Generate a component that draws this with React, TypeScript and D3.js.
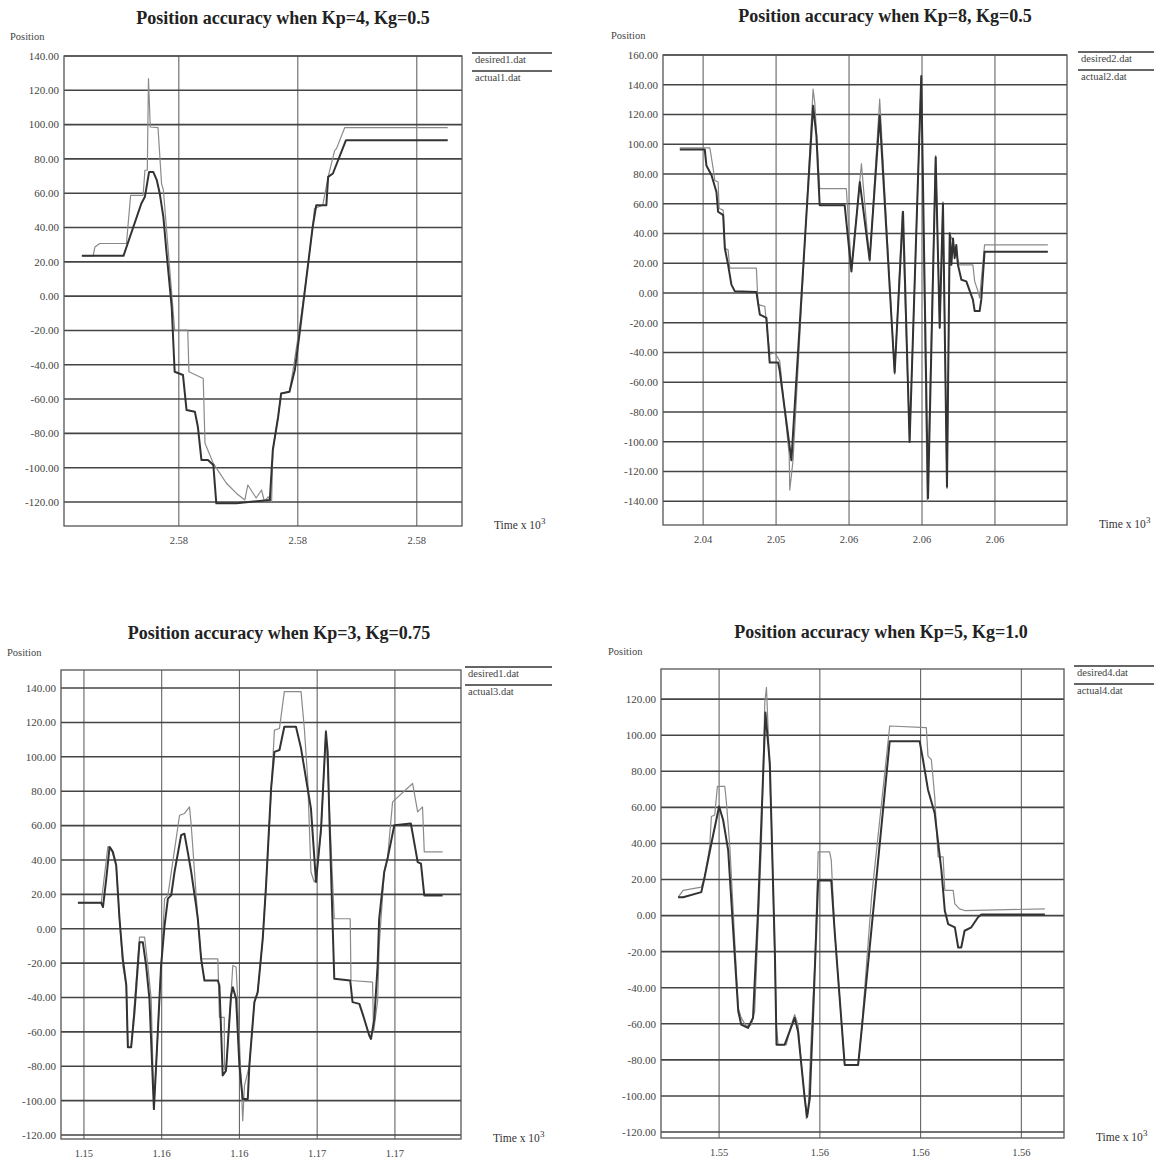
import React from "react";
import * as d3 from "d3";

type Pt = [number, number];

// ---- panel 1 : Kp=4, Kg=0.5 ----
const p1Desired: Pt[] = [
  [2574.37, 23.5], [2574.56, 23.5], [2574.59, 28.7], [2574.67, 30.7], [2575.12, 30.7],
  [2575.19, 58.8], [2575.4, 58.8], [2575.43, 73.4], [2575.47, 73.4], [2575.49, 126.8],
  [2575.52, 98.6], [2575.65, 98.3], [2575.71, 65.6], [2575.74, 62], [2575.93, -19.8],
  [2576.15, -19.8], [2576.17, -44.1], [2576.41, -48], [2576.44, -85.8], [2576.58, -97.5],
  [2576.69, -103.3], [2576.8, -109.1], [2576.97, -115], [2577.11, -118.8], [2577.16, -110.1],
  [2577.3, -117.7], [2577.39, -113], [2577.44, -119.8], [2577.5, -117], [2577.56, -119.8],
  [2577.58, -89.7], [2577.67, -70.3], [2577.72, -56.7], [2577.86, -55.7], [2577.92, -43.1],
  [2578.03, -17.9], [2578.14, 9.3], [2578.25, 40.4], [2578.28, 51.1], [2578.42, 53],
  [2578.51, 69.5], [2578.62, 85], [2578.65, 86], [2578.79, 98.3], [2580.52, 98.3],
];
const p1Actual: Pt[] = [
  [2574.37, 23.5], [2575.07, 23.5], [2575.37, 54], [2575.43, 57.9], [2575.5, 72.4],
  [2575.57, 72.4], [2575.63, 67.6], [2575.68, 59.8], [2575.74, 46.2], [2575.79, 26.8],
  [2575.88, -6.2], [2575.93, -44.1], [2576.07, -46], [2576.13, -66.4], [2576.27, -67.4],
  [2576.32, -76.1], [2576.38, -95.5], [2576.49, -95.5], [2576.58, -98.4], [2576.63, -120.8],
  [2576.97, -120.8], [2577.53, -118.8], [2577.58, -89.7], [2577.67, -70.3], [2577.72, -56.7],
  [2577.86, -55.7], [2577.95, -43.1], [2578.03, -21.7], [2578.14, 9.3], [2578.25, 40.4],
  [2578.31, 53], [2578.48, 53], [2578.51, 69.5], [2578.59, 71.5], [2578.81, 90.9],
  [2580.52, 90.9],
];

// ---- panel 2 : Kp=8, Kg=0.5 ----
const p2Desired: Pt[] = [
  [2042.72, 97.6], [2044.37, 97.6], [2044.55, 83.5], [2044.64, 75.7], [2044.82, 74.6],
  [2044.88, 56.8], [2045.1, 55.7], [2045.19, 30.1], [2045.37, 29], [2045.46, 16.7],
  [2046.92, 16.7], [2047.01, -7.8], [2047.38, -8.9], [2047.47, -20], [2047.65, -41.2],
  [2047.93, -40.1], [2048.2, -45.7], [2048.72, -109.1], [2048.75, -132.5], [2048.93, -112.5],
  [2050.03, 137], [2050.12, 128.1], [2050.39, 70.2], [2051.85, 70.2], [2052.13, 16.7],
  [2052.68, 86.9], [2053.13, 21.2], [2053.68, 130.3], [2054.5, -54.6], [2054.92, 54.6],
  [2055.32, -99.1], [2055.96, 144.8], [2056.29, -140.3], [2056.75, 92.4], [2056.97, -23.4],
  [2057.15, 61.2], [2057.37, -131.4], [2057.52, 40.1], [2057.7, 34.5], [2057.88, 25.6],
  [2058.06, 18.9], [2058.79, 18.9], [2058.89, 7.8], [2059.07, 1.1], [2059.16, -3.3],
  [2059.43, 32.3], [2062.9, 32.3],
];
const p2Actual: Pt[] = [
  [2042.72, 96.4], [2044.09, 96.4], [2044.18, 85.7], [2044.46, 79.1], [2044.73, 67.9],
  [2044.82, 54.6], [2045.1, 52.3], [2045.19, 30.1], [2045.37, 18.9], [2045.55, 5.6],
  [2045.74, 1.1], [2046.92, 0.7], [2047.11, -14.5], [2047.47, -16.7], [2047.65, -46.8],
  [2048.11, -46.8], [2048.2, -52.3], [2048.84, -112.5], [2050.03, 125.8], [2050.21, 105.8],
  [2050.39, 59], [2051.76, 59], [2052.13, 14.5], [2052.59, 74.6], [2053.13, 22.3],
  [2053.68, 119.2], [2054.5, -53.5], [2054.96, 54.6], [2055.32, -100.2], [2055.96, 145.9],
  [2056.33, -138], [2056.75, 91.3], [2056.97, -23.4], [2057.15, 60.1], [2057.37, -130.3],
  [2057.52, 40.1], [2057.61, 18.9], [2057.7, 36.7], [2057.79, 23.4], [2057.88, 32.3],
  [2057.97, 18.9], [2058.16, 8.9], [2058.43, 7.8], [2058.79, -4.5], [2058.89, -12.2],
  [2059.16, -12.2], [2059.25, -4.5], [2059.43, 27.8], [2062.9, 27.8],
];

// ---- panel 3 : Kp=3, Kg=0.75 ----
const p3Desired: Pt[] = [
  [1152.69, 15.1], [1153.89, 15.1], [1154.23, 47.6], [1154.4, 46.6], [1154.66, 36.9],
  [1154.83, 5.8], [1155.0, -21.4], [1155.18, -33], [1155.26, -68.9], [1155.43, -68.9],
  [1155.86, -4.9], [1156.12, -4.9], [1156.29, -21.4], [1156.46, -40.8], [1156.6, -104.9],
  [1156.8, -60.2], [1157.15, 17.5], [1157.32, 19.4], [1157.92, 66], [1158.17, 67],
  [1158.43, 70.9], [1158.52, 60.2], [1158.69, 33], [1158.86, 5.8], [1159.03, -17.5],
  [1159.89, -17.5], [1159.97, -51.5], [1160.22, -51.5], [1160.23, -81.6], [1160.31, -82.5],
  [1160.49, -52.4], [1160.66, -21.4], [1160.83, -22.3], [1160.91, -40.8], [1161.17, -111.7],
  [1161.26, -91.3], [1161.51, -79.6], [1161.77, -42.7], [1161.94, -36.9], [1162.2, -5.8],
  [1162.37, 25.2], [1162.63, 79.6], [1162.8, 115.5], [1163.06, 116.5], [1163.31, 137.9],
  [1164.17, 137.9], [1164.34, 116.5], [1164.51, 87.4], [1164.68, 33], [1164.85, 27.2],
  [1164.94, 29.1], [1165.2, 56.3], [1165.45, 115.5], [1165.88, 5.8], [1166.7, 5.8],
  [1166.74, -30.1], [1167.85, -31.1], [1167.9, -60.2], [1168.11, -42], [1168.19, -10],
  [1168.45, 33], [1168.62, 40.8], [1168.88, 73.8], [1169.91, 84.5], [1170.17, 68],
  [1170.42, 70.9], [1170.51, 44.7], [1171.45, 44.7],
];
const p3Actual: Pt[] = [
  [1152.69, 15.1], [1153.89, 15.1], [1153.98, 12.6], [1154.15, 29.1], [1154.32, 47.6],
  [1154.49, 44.7], [1154.66, 36.9], [1154.83, 5.8], [1155.0, -17.5], [1155.18, -33],
  [1155.26, -68.9], [1155.43, -68.9], [1155.6, -48.5], [1155.86, -7.8], [1156.03, -7.8],
  [1156.2, -21.4], [1156.37, -40.8], [1156.6, -104.9], [1156.8, -60.2], [1156.97, -21.4],
  [1157.15, 1.9], [1157.32, 17.5], [1157.49, 19.4], [1157.66, 33], [1158.0, 54.4],
  [1158.17, 55.3], [1158.34, 44.7], [1158.52, 33], [1158.77, 13.6], [1158.86, 5.8],
  [1159.03, -17.5], [1159.2, -30.1], [1159.89, -30.1], [1159.97, -33], [1160.06, -60.2],
  [1160.14, -85.4], [1160.31, -82.5], [1160.57, -38.8], [1160.66, -34], [1160.83, -40.8],
  [1161.0, -79.6], [1161.17, -99], [1161.43, -99], [1161.51, -79.6], [1161.77, -42.7],
  [1161.94, -36.9], [1162.2, -5.8], [1162.37, 25.2], [1162.63, 81.6], [1162.8, 102.9],
  [1163.06, 104], [1163.31, 117.5], [1163.91, 117.5], [1164.17, 104.9], [1164.68, 69.9],
  [1164.94, 27.2], [1165.2, 58.3], [1165.45, 114.6], [1165.54, 102.9], [1165.63, 64.1],
  [1165.88, -29.1], [1166.7, -30.1], [1166.82, -42.7], [1167.17, -43.7], [1167.34, -49.5],
  [1167.68, -62.1], [1167.77, -64.1], [1167.94, -52.4], [1168.11, -21.4], [1168.19, 5.8],
  [1168.45, 33], [1168.62, 40.8], [1168.97, 60.2], [1169.82, 61.2], [1170.08, 44.7],
  [1170.17, 38.8], [1170.34, 37.9], [1170.51, 19.4], [1171.45, 19.4],
];

// ---- panel 4 : Kp=5, Kg=1.0 ----
const p4Desired: Pt[] = [
  [1552.78, 10.2], [1552.93, 14], [1553.47, 15.8], [1553.57, 21.4], [1553.72, 38.1],
  [1553.77, 54.9], [1553.87, 55.8], [1553.95, 71.6], [1554.17, 71.6], [1554.22, 62.3],
  [1554.32, 38.1], [1554.57, -51.2], [1554.66, -56.7], [1554.81, -61.4], [1554.96, -60.5],
  [1555.06, -53], [1555.26, 40], [1555.36, 118.1], [1555.41, 126.5], [1555.46, 103.3],
  [1555.56, 51.2], [1555.71, -62.3], [1555.76, -71.6], [1556.0, -71.6], [1556.15, -60.5],
  [1556.25, -54.9], [1556.35, -60.5], [1556.45, -82.8], [1556.55, -101.4], [1556.6, -112.6],
  [1556.65, -108.8], [1556.75, -64.2], [1556.85, -27], [1556.95, 35.3], [1557.29, 35.3],
  [1557.34, 30.7], [1557.44, -8.4], [1557.59, -45.6], [1557.74, -82.8], [1558.14, -82.8],
  [1558.24, -64.2], [1558.54, 10.2], [1559.08, 105.1], [1560.17, 104.2], [1560.22, 88.4],
  [1560.32, 86.5], [1560.42, 66], [1560.52, 32.6], [1560.67, 32.6], [1560.72, 14],
  [1560.97, 14], [1561.02, 6.5], [1561.16, 3.7], [1561.31, 2.8], [1563.7, 3.7],
];
const p4Actual: Pt[] = [
  [1552.78, 10.2], [1552.93, 10.2], [1553.47, 13], [1553.57, 21.4], [1553.77, 40],
  [1554.0, 60.5], [1554.12, 53], [1554.27, 36.3], [1554.57, -53], [1554.66, -60.5],
  [1554.86, -62.3], [1555.01, -56.7], [1555.16, 2.8], [1555.38, 112.6], [1555.51, 84.7],
  [1555.66, -19.5], [1555.71, -71.6], [1555.95, -71.6], [1556.1, -64.2], [1556.25, -56.7],
  [1556.35, -64.2], [1556.55, -101.4], [1556.62, -111.6], [1556.7, -101.4], [1556.8, -54.9],
  [1556.95, 19.5], [1557.34, 19.5], [1557.44, -8.4], [1557.74, -82.8], [1558.14, -82.8],
  [1558.24, -64.2], [1558.63, 10.2], [1559.08, 96.7], [1559.97, 96.7], [1560.07, 86.5],
  [1560.22, 69.8], [1560.42, 56.7], [1560.62, 25.1], [1560.72, 2.8], [1560.82, -4.7],
  [1561.02, -6.5], [1561.12, -17.7], [1561.21, -17.7], [1561.31, -8.4], [1561.51, -6.5],
  [1561.71, -0.9], [1561.81, 0.6], [1563.7, 0.6],
];

// ---- axes / labels ----
const titles = [
  "Position accuracy when Kp=4, Kg=0.5",
  "Position accuracy when Kp=8, Kg=0.5",
  "Position accuracy when Kp=3, Kg=0.75",
  "Position accuracy when Kp=5, Kg=1.0",
];
const legendNames = [
  ["desired1.dat", "actual1.dat"],
  ["desired2.dat", "actual2.dat"],
  ["desired1.dat", "actual3.dat"],
  ["desired4.dat", "actual4.dat"],
];
const yTicks1 = [-120, -100, -80, -60, -40, -20, 0, 20, 40, 60, 80, 100, 120, 140];
const yTicks2 = [-140, -120, -100, -80, -60, -40, -20, 0, 20, 40, 60, 80, 100, 120, 140, 160];
const yTicks3 = [-120, -100, -80, -60, -40, -20, 0, 20, 40, 60, 80, 100, 120, 140];
const yTicks4 = [-120, -100, -80, -60, -40, -20, 0, 20, 40, 60, 80, 100, 120];
const xTicks1 = [2576, 2578, 2580];
const xLabels1 = ["2.58", "2.58", "2.58"];
const xTicks2 = [2044, 2048, 2052, 2056, 2060];
const xLabels2 = ["2.04", "2.05", "2.06", "2.06", "2.06"];
const xTicks3 = [1153, 1157, 1161, 1165, 1169];
const xLabels3 = ["1.15", "1.16", "1.16", "1.17", "1.17"];
const xTicks4 = [1554, 1557, 1560, 1563];
const xLabels4 = ["1.55", "1.56", "1.56", "1.56"];

const FONT = "'Liberation Serif', 'DejaVu Serif', serif";

const panels = [
  { title: titles[0], legend: legendNames[0], desired: p1Desired, actual: p1Actual,
    yTicks: yTicks1, xTicks: xTicks1, xLabels: xLabels1,
    xDomain: [2574.07, 2580.76], yDomain: [-134, 140],
    x0: 64, x1: 462, y0: 56, y1: 526, titleX: 283, titleY: 23, posX: 10, posY: 40, legX0: 472, legX1: 552 },
  { title: titles[1], legend: legendNames[1], desired: p2Desired, actual: p2Actual,
    yTicks: yTicks2, xTicks: xTicks2, xLabels: xLabels2,
    xDomain: [2041.8, 2063.95], yDomain: [-156, 160],
    x0: 663, x1: 1067, y0: 55, y1: 525, titleX: 885, titleY: 21, posX: 611, posY: 39, legX0: 1078, legX1: 1154 },
  { title: titles[2], legend: legendNames[2], desired: p3Desired, actual: p3Actual,
    yTicks: yTicks3, xTicks: xTicks3, xLabels: xLabels3,
    xDomain: [1151.82, 1172.4], yDomain: [-122.3, 150.5],
    x0: 61, x1: 461, y0: 670, y1: 1139, titleX: 279, titleY: 638, posX: 7, posY: 656, legX0: 465, legX1: 552 },
  { title: titles[3], legend: legendNames[3], desired: p4Desired, actual: p4Actual,
    yTicks: yTicks4, xTicks: xTicks4, xLabels: xLabels4,
    xDomain: [1552.27, 1564.27], yDomain: [-123.3, 136.7],
    x0: 661, x1: 1064, y0: 669, y1: 1138, titleX: 881, titleY: 637, posX: 608, posY: 655, legX0: 1074, legX1: 1154 },
];

function Panel({ p }: { p: (typeof panels)[number] }) {
  const x = d3.scaleLinear().domain(p.xDomain).range([p.x0, p.x1]);
  const y = d3.scaleLinear().domain(p.yDomain).range([p.y1, p.y0]);
  const line = d3
    .line<Pt>()
    .x((d) => x(d[0]))
    .y((d) => y(d[1]));

  return (
    <g fontFamily={FONT}>
      <text x={p.titleX} y={p.titleY + 1} textAnchor="middle" fontSize={18} fontWeight="bold" fill="#222">
        {p.title}
      </text>
      <text x={p.posX} y={p.posY} fontSize={10.5} fill="#444">Position</text>

      {/* vertical grid */}
      {p.xTicks.map((t) => (
        <line key={"v" + t} x1={x(t)} x2={x(t)} y1={p.y0} y2={p.y1} stroke="#666" strokeWidth={1.1} />
      ))}
      {/* horizontal grid */}
      {p.yTicks.map((v) => (
        <line key={"h" + v} x1={p.x0} x2={p.x1} y1={y(v)} y2={y(v)} stroke="#444" strokeWidth={1.6} />
      ))}
      <rect x={p.x0} y={p.y0} width={p.x1 - p.x0} height={p.y1 - p.y0} fill="none" stroke="#555" strokeWidth={1.3} />

      {p.yTicks.map((v) => (
        <text key={"yl" + v} x={p.x0 - 5} y={y(v)} dy="0.35em" textAnchor="end" fontSize={11} fill="#444">
          {v.toFixed(2)}
        </text>
      ))}
      {p.xTicks.map((t, i) => (
        <text key={"xl" + t} x={x(t)} y={p.y1 + 18} textAnchor="middle" fontSize={10.5} fill="#444">
          {p.xLabels[i]}
        </text>
      ))}
      <text x={p.x1 + 32} y={p.y1 + 3} fontSize={11.5} fill="#333">
        Time x 10<tspan dy={-5} fontSize={9}>3</tspan>
      </text>

      {/* legend */}
      <line x1={p.legX0} x2={p.legX1} y1={p.y0 - 3} y2={p.y0 - 3} stroke="#333" strokeWidth={1.5} />
      <text x={p.legX0 + 3} y={p.y0 + 7} fontSize={10.5} fill="#444">{p.legend[0]}</text>
      <line x1={p.legX0} x2={p.legX1} y1={p.y0 + 15} y2={p.y0 + 15} stroke="#333" strokeWidth={1.5} />
      <text x={p.legX0 + 3} y={p.y0 + 25} fontSize={10.5} fill="#444">{p.legend[1]}</text>

      <path d={line(p.desired) ?? ""} fill="none" stroke="#8a8a8a" strokeWidth={1.2} strokeLinejoin="round" />
      <path d={line(p.actual) ?? ""} fill="none" stroke="#333" strokeWidth={2} strokeLinejoin="round" />
    </g>
  );
}

export default function App() {
  return (
    <svg
      width={1154}
      height={1162}
      style={{ position: "absolute", left: 0, top: 0, background: "#fff", display: "block" }}
    >
      <rect width={1154} height={1162} fill="#fff" />
      {panels.map((p, i) => (
        <Panel key={i} p={p} />
      ))}
    </svg>
  );
}
